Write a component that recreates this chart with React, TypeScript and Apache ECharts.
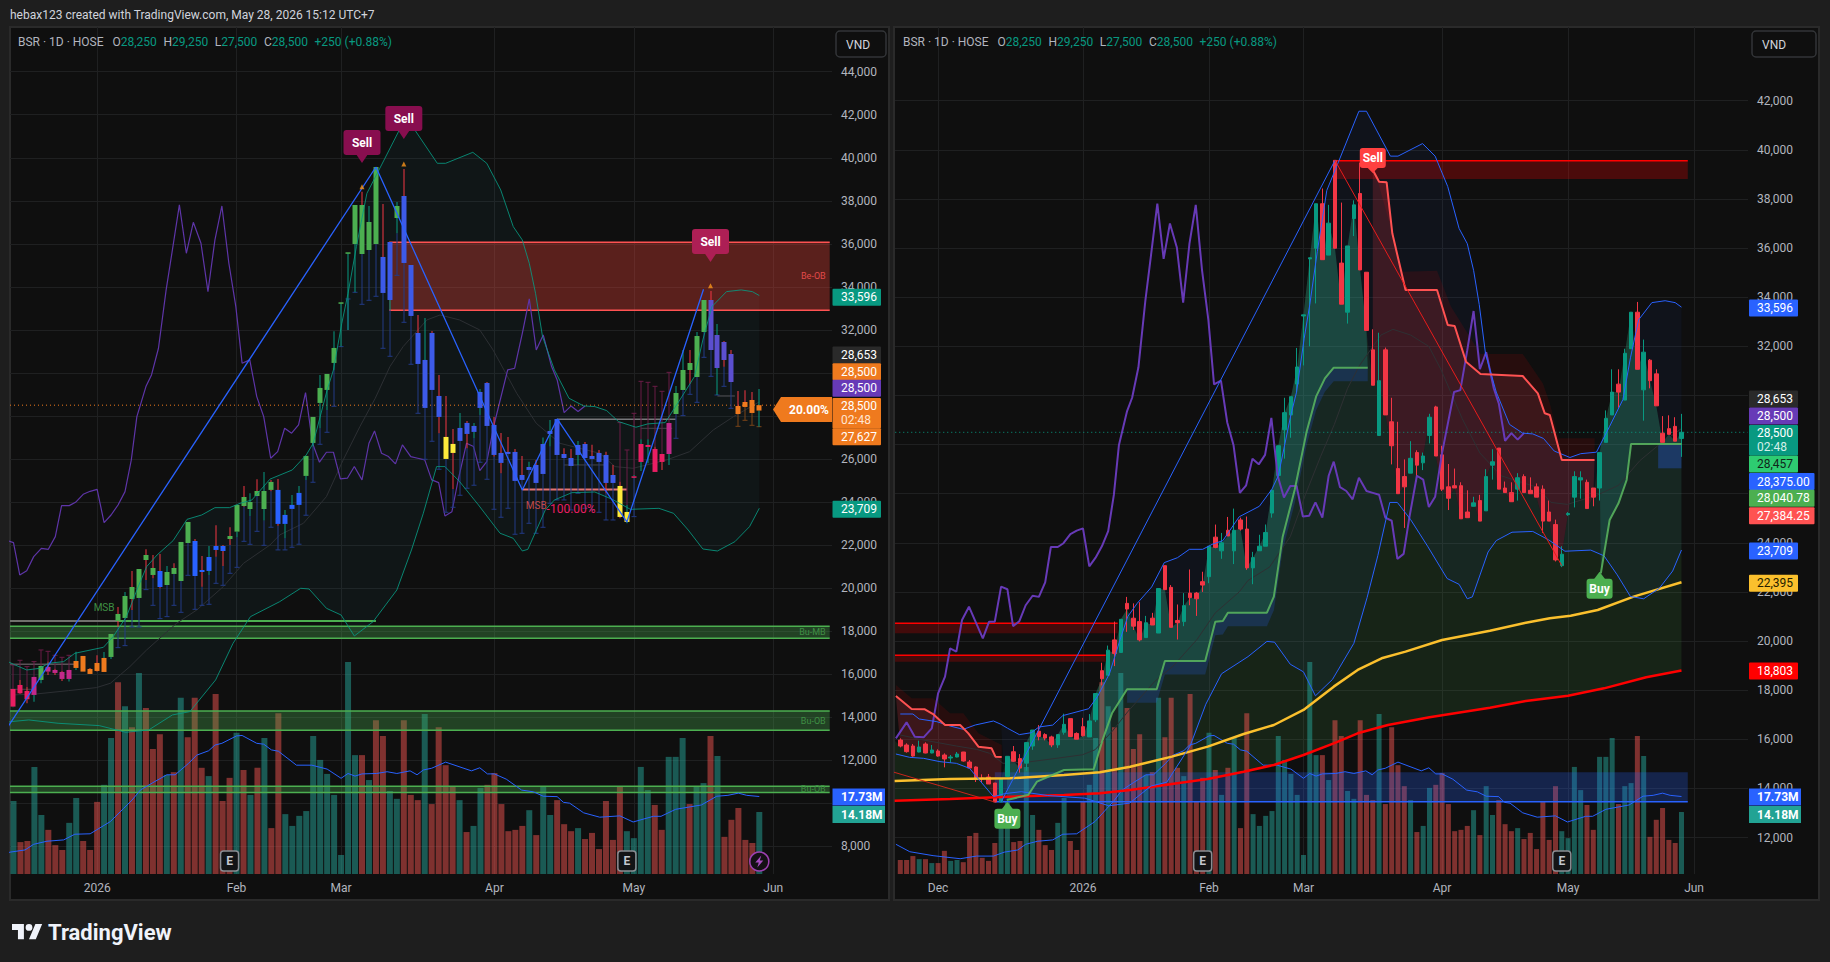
import React, { useEffect, useRef } from "react";
import * as echarts from "echarts";

echarts.graphic.registerShape(
  "tvLogo",
  echarts.graphic.extendPath("M14 22H7V11H0V4h14v18zM28 22h-8l7.5-18h8L28 22zM16 8a4 4 0 1 0 8 0a4 4 0 1 0 -8 0z", {})
);

// All x values are bar numbers: 0 is the first bar of the left pane, -17 the first of the right pane, 107 = May 28.
const firstBar = -18;
const bodyTops = [16245,15974,15770,15730,15689,15811,15567,15526,15363,15282,15404,15485,15078,14875,14427,14468,14223,14386,
15310,15496,15218,15868,16379,16333,16193,16100,16193,16611,16844,16240,16518,16751,17866,18796,19632,20050,20887,21537,20933,20794,20747,20933,22142,23071,22188,20840,21444,21955,21955,22420,23861,24233,24000,24512,24512,24933,24561,23399,23864,24422,26141,27953,29301,29951,31160,33282,35606,37805,37805,37015,39571,35389,36086,37759,38223,35017,31857,30602,31857,28929,27024,26699,27442,27675,27535,29115,29533,27582,26280,26327,26327,25256,25628,25721,26697,27301,27859,26232,26046,26651,26697,26139,26279,26186,25256,24745,23537,25194,26697,26651,26465,26232,27673,29067,30136,30461,31716,33389,33389,31762,31437,30879,28463,28649,28742,28500];
const bodyBottoms = [15974,15729,15499,15322,15485,15445,15445,15322,15200,15241,15282,15119,14834,14386,14386,14183,13450,13450,
14490,15109,14830,15032,15729,16116,16053,15775,15775,16286,16116,16007,16147,16100,16797,18470,18610,19492,19539,21305,20608,20050,20143,20655,20329,22095,20561,20747,20794,21770,21723,22281,22622,23815,23675,24279,23675,24561,22981,22981,23678,23864,25212,26745,28604,29208,30463,33236,35560,35993,35528,35714,35993,33716,33390,37201,35110,32647,30416,28372,29208,27953,26001,26280,26838,27163,27257,28372,27535,26187,25816,26234,24979,25024,25489,24885,25303,27162,26186,26046,25675,26186,26046,26000,25861,24885,24885,23305,23072,25148,25861,26558,25396,25861,26232,28091,29207,30136,29811,31902,31065,30229,30601,29578,28091,28417,28138,28250];
const lows = [15900,15675,15458,15295,15472,15431,15431,15295,14861,15051,15268,15092,14834,14264,14264,14183,13450,13450,
14460,15080,14644,14721,15574,15960,15960,15682,15652,16193,16116,16007,16120,16100,16704,18200,18610,18982,19539,20376,20453,19990,20143,20655,20329,22095,20561,20066,20608,21460,21026,22002,22358,23780,23350,24279,23136,24500,22900,22316,23678,23864,25026,26575,27427,28278,30137,31222,32000,33747,35528,35714,35993,33716,32926,36488,35110,32647,30416,28372,29208,27194,26001,24607,26838,26498,26962,28046,27535,26110,25336,26234,24979,25024,25489,24885,25303,26574,26186,26046,25675,25721,26046,26000,25861,24404,24885,23243,23012,25100,25442,25799,25396,25489,25721,28091,29207,29500,29811,31902,31065,28974,30291,29578,28091,28417,28138,27500];
const highs = [16300,16042,15838,15811,15947,15879,15770,15594,15431,15363,15485,15490,15160,14900,14576,14590,14223,14386,
15310,15729,15400,15868,16379,16581,16250,16150,16193,17045,16844,16286,16875,17030,17866,19120,19818,20794,20887,21800,21537,21584,21026,21150,22142,23071,22281,21491,21955,22916,22002,22823,23861,24744,24403,25054,25395,25026,25072,23632,24329,24747,26141,27953,29905,29951,31934,33282,35606,37805,38425,37759,39571,37852,36086,37945,39478,35017,32693,32554,31950,29905,28929,27396,28139,27768,27675,29254,29580,27953,27210,27024,26466,26139,25876,25954,27000,27813,27859,26496,26465,26837,26790,26666,26418,26341,25721,24946,23863,25250,26914,26914,26573,26232,27673,29392,31065,31065,31902,33389,33807,32274,31484,31065,29160,29191,29114,29250];
// G = up day, R = down day, per bar
const directions = "RRRRGRGRRGGRRRRRRG" +
"GRRGGRRRGG" + "RRRGGRGRGR" + "RRGRGRRRGR" + "RRGRGRGRRG" + "GGGGGGGGGG" + "RGRRGGRRRG" + "RRRRGRGGRR" + "RRRRGRGGRR" + "RGRRRRRRGG" + "GGRRGGGRGG" + "RGRRRRRG";
const volumes = [2.3,3.2,3.2,4.1,3.4,3.4,2.5,2.5,5.3,3,3.2,2.7,8.7,9.4,3.7,3,7.1,10.5,
16.7,7.3,7.55,24.5,13.5,10.1,6.6,5.5,11.7,17.4,7.55,5.5,16.5,20.4,31.1,43.9,38.4,33.6,46,38,28.6,32,22.7,23.3,40.3,31.3,40.3,24.3,22.4,41.2,16.7,22,32.3,23.8,18.1,24.3,31.1,10.5,36.8,13.7,11,13.3,14.4,31.6,26.1,22.9,18.1,4.35,48.5,27.2,27.2,21.5,35.2,31.6,19,17.2,35.2,18.1,16.9,36.6,16,33.6,24.9,20.1,16.9,9.6,11,19.7,20.4,23.1,16,9.8,10.1,11,14.6,8.9,20.1,13.5,16.9,11.4,9.8,10.5,8,9.4,5.7,16.7,7.8,20.1,9.8,8.2,24.5,19.2,15.8,10.1,26.8,26.8,31.1,16,20.1,20.8,31.6,27,8.5,12.4,15.1,7.8,7.1,14.18];
// Left pane only: the long pale wick ends that the indicator paints
const lowTrails: Record<number, number> = {15:17231,16:17324,17:18192,18:18192,19:19927,20:19198,21:18579,22:18672,23:19198,24:18873,25:20592,26:19013,27:19198,28:19245,29:20221,30:20128,31:20685,32:20964,33:22172,34:22033,35:22637,36:21987,37:22826,38:21773,39:21773,40:21897,41:22037,42:23384,43:24918,44:26683,45:27241,46:28449,47:31222,48:33437,49:33747,50:33189,51:33375,52:33561,53:31144,54:30773,55:34537,56:32353,57:30401,58:28124,59:25986,60:26823,61:25522,62:23523,63:23755,64:24313,65:24639,66:24779,67:25847,68:25057,69:23663,70:23291,71:23709,72:22501,73:22546,74:23011,75:22546,76:22825,77:23940,78:24095,79:24095,80:23630,81:24404,82:23707,83:23630,84:23522,85:23165,86:23165,89:23320,95:26961,96:28014,97:29005,98:28634,99:30725,100:29842,101:28974,102:29377,103:28355,104:27518,105:27797,106:27565,107:27500};
const highTrails: Record<number, number> = {0:16425,1:16643,2:16348,3:16581,4:17123,5:17060,6:16875,7:16782,8:16875,87:27689,88:26418,89:28122,90:29609,91:29563,92:29377,93:29145,94:30027};
// Left pane paint state of bars 0..107, as runs of [state, bars]
const paintRuns: [string, number][] = [["p",3],["m",1],["g",1],["m",4],["o",5],["g",7],["b",1],["g",4],["b",5],["g",7],["b",4],["g",11],["i",2],["g",1],["i",6],["y",2],["i",23],["y",2],["p",5],["m",1],["g",5],["u",4],["o",4]];
const paintStates = paintRuns.flatMap(([s, n]) => Array.from({ length: n }, () => s));

const bbUpper = [[-17,17032],[-15,17032],[-14,16829],[-11.2,16720],[-9.1,16544],[-7,16408],[-5.1,16585],[-2.2,16747],[-1,16612],[0,16457],[1.9,16193],[3.8,16271],[5,16503],[7.2,16581],[8.8,16968],[12.9,17247],[14.3,17742],[16.2,18672],[17.9,20066],[19.1,20995],[20.6,21537],[22.9,22204],[24.9,23195],[27,23396],[28.9,23737],[31,23737],[32.5,23938],[34.2,24093],[36.8,25063],[40,25490],[42,26187],[43,26730],[45,29208],[45.9,30137],[47.1,32306],[48,33700],[49.2,35869],[50.7,38345],[52.8,39664],[55.8,41571],[57,41571],[60.8,39743],[62,39743],[65.9,40254],[67.9,39743],[69.9,38504],[71.7,36800],[73,36180],[74,35096],[74.9,33702],[75.9,31688],[77.6,30139],[79.7,28822],[81.8,28466],[83.4,28435],[85.1,28249],[86.8,27738],[89.3,27475],[91,27630],[93.5,27691],[95.6,28745],[97.7,29829],[98.9,31533],[100.2,33082],[102.3,33779],[104.4,33857],[106,33779],[107,33596]];
const bbLower = [[-17.7,15404],[-15.5,15268],[-13.3,15228],[-10.7,15092],[-8.1,15024],[-6,14820],[-4.9,14481],[-2.2,13667],[-1.2,13735],[-0.4,13792],[2.2,13869],[6.4,13714],[12.3,13606],[16.1,13296],[19.4,13404],[22.8,14102],[25.3,14256],[29,15728],[31.5,17432],[34,18671],[38.2,19368],[41.2,19988],[42.4,19957],[44.9,19058],[47,18748],[48.9,17772],[51.6,18439],[55,19910],[57.1,21773],[58.8,23477],[60.7,25645],[61.9,25645],[64,24948],[66.7,23864],[69.8,22548],[71.7,22311],[73,21723],[73.8,21800],[76.3,23628],[77.6,24093],[80.1,24433],[83.4,24464],[85.9,24124],[88.5,23659],[92.6,23705],[94.7,23473],[96.8,22698],[98.9,21815],[101,21723],[103.5,22156],[105.6,22853],[107,23709]];
const bbBasis = [[-17,16177],[-13.3,15974],[-8.1,15729],[-4.9,15594],[-2.8,15431],[-0.7,15024],[3.3,15078],[7.9,15233],[11.9,15372],[13.9,15574],[16.7,16348],[19.1,17123],[23.4,18362],[26.3,18982],[30.1,20066],[33,21150],[36.8,22002],[38.2,22470],[41.6,23012],[44.9,24252],[47.3,25955],[49.7,27505],[51.9,28821],[54,30292],[55.9,31222],[59.3,32461],[61.2,32693],[64,32461],[66.9,31996],[68.8,31067],[72.2,29052],[75,27658],[78.4,26728],[84.1,26264],[86.3,25644],[88.9,25566],[93.7,25954],[97,26341],[100.4,27348],[103.3,27967],[107,28653]];
const laggingLine = [[-17.7,16042],[-16,16693],[-14.7,16110],[-13.3,16083],[-12,16449],[-11,17874],[-9.9,18552],[-9.1,19706],[-8.1,19570],[-7.2,20860],[-6.1,21402],[-3.9,20113],[-2.9,20792],[-2,20792],[-1,22217],[0,22111],[0.9,20608],[1.9,20809],[2.9,21460],[4,21847],[5,21801],[6,22389],[6.9,23830],[8,23830],[8.9,23985],[10,24357],[11,24496],[12,24589],[13,23040],[14,23396],[15,23861],[16,24481],[16.9,25952],[17.7,27970],[19,29365],[19.8,29907],[20.8,31146],[21.9,33857],[22.8,35716],[23.8,37807],[24.8,35561],[25.8,37001],[26.9,36025],[27.9,33779],[28.9,36180],[29.9,37760],[30.9,35096],[31.9,33082],[32.8,30449],[33.9,30604],[34.9,28900],[35.9,27970],[36.9,26034],[37.9,26343],[38.9,27428],[39.9,27196],[40.9,27583],[41.9,29085],[42.9,26731],[43.9,25850],[44.9,26313],[45.9,26313],[46.9,25074],[47.9,25105],[48.9,25647],[50,25027],[51,26731],[51.8,27304],[52.8,26266],[53.8,26111],[54.8,25771],[55.8,26654],[57,26111],[58,26034],[59,25956],[60,25027],[61,24900],[61.9,23349],[62.9,23550],[63.8,25022],[65,26731],[66,26576],[66.9,25461],[67.9,25878],[69,27661],[70.9,30139],[71.9,30217],[73,31843],[74,33438],[75,31068],[76,31765],[77.2,30294],[78,29675],[79,28156],[80,28466],[81,28203],[82,28466]];
const volumeAvg = [[-17.7,6.8],[-15.5,5.1],[-11.8,4.2],[-7.5,3.5],[-4.9,4.1],[-2.2,4.1],[-0.5,5],[1.65,5.5],[2.9,6.8],[4.8,7.5],[7.2,7.8],[8.8,9.1],[11,9.2],[13.9,12],[15.8,15],[17,16.9],[18.2,19.2],[20,20.9],[22,22.7],[23.2,22.7],[25.1,25.3],[26.3,27.2],[28,28.2],[28.9,29.5],[29.9,29.9],[32,31.6],[32.8,31.7],[34.9,29.9],[35.9,29.7],[37,28.4],[38,28.1],[40.6,24.9],[42.8,24.9],[45,24],[47,21.9],[48,23],[49,22.4],[50,22.9],[52.1,23],[53.6,23.4],[55,23],[56.9,23.6],[57.9,22.7],[58.8,23.8],[60,24.2],[62,25.6],[65.7,23.6],[66.9,24.3],[68,22.9],[69,22.9],[70.7,21.7],[72.9,19.2],[74.6,18.8],[76,17.8],[78,17.7],[78.9,16.4],[79.8,16.2],[81.8,14],[84.1,13],[87,13.3],[88.9,11.9],[91.8,13.2],[92.9,13.2],[95,14.8],[98.7,15.8],[100.9,17.8],[102.5,18],[104,18.5],[105.2,18],[107,17.73]];
const zigzagUp = [[-1,13450],[52,39571]];
const zigzagLeftRest = [[52,39571],[73,24560],[78,27859],[88,23072],[99,33885]];
const zigzagRedRight = [[52,39571],[88,23072]];
const zigzagRedStart = [[-18.5,14700],[-2,13450]];

const maYellow = [[-17.9,14305],[-9.1,14387],[0.4,14414],[9,14549],[14.7,14658],[19.5,14888],[26.1,15296],[31.8,15703],[37.5,16219],[42.3,16585],[47,17196],[51.8,18146],[55.6,18824],[59.4,19299],[63.2,19571],[69,20045],[76.6,20425],[82.3,20751],[86.1,20927],[89.4,21036],[93.7,21267],[99.4,21809],[107,22395]];
const maRed = [[-17.9,13505],[-9.1,13573],[0.4,13668],[9,13736],[14.7,13803],[19.5,13939],[26.1,14183],[31.8,14387],[37.5,14685],[42.3,14957],[47,15364],[51.8,15839],[55.6,16246],[60.4,16585],[67,16897],[76.6,17291],[82.3,17562],[89,17779],[94.7,18077],[101.4,18526],[107,18803]];
const trendGreenA = [[-0.1,13532],[3.3,13735],[4.7,14278],[9,14753],[13.7,14780],[15.2,16042],[16.6,17060],[19,18037],[23.7,18037],[25,19191],[31.4,19191],[33,20792],[34.2,20819],[35,21158],[41.2,21158],[42.3,21809],[43.7,24252],[45.6,26152],[47.5,28527],[49,29952],[50.4,30698],[51.8,31132],[57.2,31132]];
const trendGreenB = [[94.2,22759],[95.6,24931],[97,25609],[98.3,26559],[99,28025],[107,28025]];
const trendRedA = [[-17.7,17765],[-15.2,17236],[-13.1,17222],[-11.8,17032],[-9.9,16584],[-7.5,16584],[-6.2,16245],[-4.6,15702],[-2.5,15635],[-1.9,15295],[-0.9,15282]];
const trendRedB = [[58,39179],[59,38704],[60.2,38677],[61.1,36601],[63.2,34294],[68.2,34294],[69.9,32869],[71,32829],[72.8,31377],[75.1,30875],[81.8,30793],[84.2,30087],[85.3,29273],[86.1,29205],[88,27373],[93.2,27373]];
const haloRedA = [[-17.7,18213],[-15.2,17670],[-11.8,17670],[-9.1,17059],[-7,17059],[-4.6,16245],[-0.9,15770]];
const haloRedB = [[58.3,39179],[62.8,35040],[68.2,35080],[70.4,33620],[75.1,31689],[81.8,31689],[85,30490],[86.1,29680],[87.5,28256],[93.2,28256]];

// x0, x1, top price, bottom price, name shown at the right
const leftZones = [[53.9,117.1,36071,32910,"Be-OB"],[-0.5,117.1,18222,17664,"Bu-MB"],[-0.5,117.1,14287,13389,"Bu-OB"],[-0.5,117.1,10787,10492,"Bu-OB"]];
const rightZones = [[52.3,108,39559,38813,""],[-18,17.5,20724,20317,""],[-18,15.6,19421,19163,""],[-2,108,14658,13464,""],[103.3,107,28025,27034,""]];
const leftLevels = [[15,52,18470,"#4caf50",2],[-0.5,15,18470,"#70706c",2],[73,88,24575,"#e57373",2],[78,95,27843,"#77777a",1.5],[-0.5,9,16457,"#5a5258",1.5],[-0.5,3,15295,"#4a4448",1],[101,103.5,28928,"#55555a",1],[79,85,25721,"#44444a",1],[90,94.5,27425,"#44444a",1]];
const sellLeft = [[50,39756,"#880e4f"],[56,40872,"#880e4f"],[100,35155,"#ad1f55"]];
const warnTriangles = [[50,38657],[56,39711],[100,34055]];
const leftNotes = [[13,19119,"MSB","#3f8f44",10],[75,23828,"MSB","#c24a4a",10],[80,23675,"-100.00%","#e91e63",12]];
const earningsBars = [31,88];
const leftPriceTicks = [8000,10000,12000,14000,16000,18000,20000,22000,24000,26000,28000,30000,32000,34000,36000,38000,40000,42000,44000];
const rightPriceTicks = [12000,14000,16000,18000,20000,22000,24000,26000,28000,30000,32000,34000,36000,38000,40000,42000];
// tick labels that sit wholly behind a price badge in the reference
const leftHiddenTicks = [10000,28000,30000];
const rightHiddenTicks = [26000,28000,30000];
const timeTickBars = [-11,12,32,47,69,89,109];
const timeTickNames = ["Dec","2026","Feb","Mar","Apr","May","Jun"];
const legendValues = { o: "28,250", h: "29,250", l: "27,500", c: "28,500", ch: "+250 (+0.88%)" };
const badgesLeft: any[] = [["33,596",297.3,"#089981","#fff"],["28,653",355,"#2a2a2a","#fff"],["28,500",371.7,"#ef7a1e","#fff"],["28,500",388.3,"#673ab7","#fff"],["27,627",436.7,"#ef7a1e","#fff"],["23,709",509.3,"#089981","#fff"]];
const badgesRight: any[] = [["33,596",308,"#2962ff","#fff"],["28,653",399,"#2a2a2a","#fff"],["28,500",416,"#673ab7","#fff"],["28,457",464,"#2ecc71","#10261a"],["28,375.00",481.5,"#2962ff","#fff",65.5],["28,040.78",498.3,"#4caf50","#fff",65.5],["27,384.25",515.7,"#ff5252","#fff",65.5],["23,709",551,"#2962ff","#fff"],["22,395",583.3,"#fbc02d","#241c00"],["18,803",671,"#ff0000","#fff"]];

const FONT = "Roboto, sans-serif";
const TEAL = "#089981";
const RED = "#f23645";
const GRID = "#1f2021";
const closes = bodyTops.map((t, i) => (directions[i] === "G" ? t : bodyBottoms[i]));
const opens = bodyTops.map((t, i) => (directions[i] === "G" ? bodyBottoms[i] : t));
const barAt = (i: number) => i + firstBar;
const closePts = closes.map((c, i) => [barAt(i), c]);
const closeRange = (a: number, b: number) => closePts.filter((p) => p[0] >= a && p[0] <= b);

const paints: Record<string, any> = {
  g: { body: "#4caf50" }, b: { body: "#2962ff" }, i: { body: "#3d5ae8" }, u: { body: "#5b4fcf" },
  y: { body: "#ffeb3b" }, o: { body: "#ef7a1e", trail: "#7a4418" }, p: { body: "#e91e63" }, m: { body: "#c2298a" },
};

const line = (name: string, data: number[][], xi: number, yi: number, color: string, width: number, z: number, type: any = "solid", opacity = 1) => ({
  type: "line", name, data, xAxisIndex: xi, yAxisIndex: yi, showSymbol: false, symbol: "none", silent: true, z,
  lineStyle: { color, width, type, opacity }, clip: true,
});
const polygon = (name: string, pts: number[][], xi: number, yi: number, fill: string, z: number) => ({
  type: "custom", name, xAxisIndex: xi, yAxisIndex: yi, silent: true, clip: true, z,
  data: [pts[0]], encode: { x: 0, y: 1 },
  renderItem: (_: any, api: any) => ({ type: "polygon", shape: { points: pts.map((p) => api.coord(p)) }, style: { fill } }),
});
const band = (name: string, top: number[][], bottom: number[][], xi: number, yi: number, fill: string, z: number) =>
  polygon(name, [...top, ...[...bottom].reverse()], xi, yi, fill, z);

const volumeSeries = (xi: number, yi: number, width: number, from: number) => ({
  type: "bar", name: "Volume", xAxisIndex: xi, yAxisIndex: yi, barWidth: width, silent: true, z: 2, clip: true,
  data: volumes
    .map((v, i) => ({
      value: [barAt(i), v],
      itemStyle: { color: directions[i] === "G" ? "rgba(38,166,154,0.5)" : "rgba(239,83,80,0.5)" },
    }))
    .filter((d) => d.value[0] >= from),
});
const eventSeries = (xi: number, yi: number) => ({
  type: "custom", name: "Events", xAxisIndex: xi, yAxisIndex: yi, silent: true, z: 9,
  data: earningsBars.map((b) => [b, 0]), encode: { x: 0, y: 1 },
  renderItem: (_: any, api: any) => {
    const [x, y] = api.coord([api.value(0), 0]);
    return {
      type: "group", children: [
        { type: "rect", shape: { x: x - 9, y: y - 23, width: 18, height: 20, r: 3 }, style: { fill: "#131416", stroke: "#8a8d93", lineWidth: 1.5 } },
        { type: "text", style: { x, y: y - 13, text: "E", fill: "#c4c7cf", font: `bold 12px ${FONT}`, align: "center", verticalAlign: "middle" } },
      ],
    };
  },
});
const tagSeries = (name: string, items: any[], xi: number, yi: number, text: string, w: number, h: number, below: boolean, gap: number) => ({
  type: "custom", name, xAxisIndex: xi, yAxisIndex: yi, silent: true, z: 10, data: items.map((t) => [t[0], t[1]]), encode: { x: 0, y: 1 },
  renderItem: (p: any, api: any) => {
    const [x, y] = api.coord([api.value(0), api.value(1)]);
    const fill = items[p.dataIndex][2];
    const top = below ? y + gap : y - gap - h;
    const tip = below ? [[x, y], [x - 6, y + gap + 1], [x + 6, y + gap + 1]] : [[x, y], [x - 6, y - gap - 1], [x + 6, y - gap - 1]];
    return {
      type: "group", children: [
        { type: "polygon", shape: { points: tip }, style: { fill } },
        { type: "rect", shape: { x: x - w / 2, y: top, width: w, height: h, r: 3 }, style: { fill } },
        { type: "text", style: { x, y: top + h / 2, text, fill: "#fff", font: `bold 12px ${FONT}`, align: "center", verticalAlign: "middle" } },
      ],
    };
  },
});
const zoneSeries = (zones: any[], xi: number, yi: number, styles: any[], z: number) => ({
  type: "custom", name: "Zones", xAxisIndex: xi, yAxisIndex: yi, silent: true, clip: true, z,
  data: zones.map((d) => [d[0], d[2]]), encode: { x: 0, y: 1 },
  renderItem: (p: any, api: any) => {
    const d = zones[p.dataIndex];
    const s = styles[p.dataIndex];
    const [x0, y0] = api.coord([d[0], d[2]]);
    const [x1, y1] = api.coord([d[1], d[3]]);
    const kids: any[] = [{ type: "rect", shape: { x: x0, y: y0, width: x1 - x0, height: y1 - y0 }, style: { fill: s.fill } }];
    if (s.top) kids.push({ type: "line", shape: { x1: x0, y1: y0, x2: x1, y2: y0 }, style: { stroke: s.top, lineWidth: s.w || 1.5 } });
    if (s.bottom) kids.push({ type: "line", shape: { x1: x0, y1, x2: x1, y2: y1 }, style: { stroke: s.bottom, lineWidth: s.w || 1.5 } });
    if (d[4]) kids.push({ type: "text", style: { x: x1 - 4, y: (y0 + y1) / 2, text: d[4], fill: s.label, font: `9px ${FONT}`, align: "right", verticalAlign: "middle" } });
    return { type: "group", children: kids };
  },
});

const leftCandles = {
  type: "custom", name: "BSR candles", xAxisIndex: 0, yAxisIndex: 0, clip: true, silent: true, z: 6,
  data: bodyTops.map((t, i) => [barAt(i), t, bodyBottoms[i], lows[i], highs[i]]).filter((d) => d[0] >= 0),
  encode: { x: 0, y: [1, 2, 3, 4] },
  renderItem: (p: any, api: any) => {
    const bar = api.value(0);
    const i = bar - firstBar;
    const c = (v: number) => api.coord([bar, v]);
    const x = Math.round(c(0)[0]);
    const yT = c(api.value(1))[1], yB = c(api.value(2))[1], yL = c(api.value(3))[1], yH = c(api.value(4))[1];
    const paint = paints[paintStates[bar]] || paints.b;
    const wick = directions[i] === "G" ? TEAL : RED;
    const kids: any[] = [];
    const vline = (a: number, b: number, color: string) => kids.push({ type: "rect", shape: { x: x - 0.5, y: Math.min(a, b), width: 1, height: Math.abs(b - a) }, style: { fill: color } });
    const cap = (a: number, color: string) => kids.push({ type: "rect", shape: { x: x - 2.5, y: a - 0.5, width: 5, height: 1 }, style: { fill: color } });
    const ht = highTrails[bar];
    if (ht) { const y = c(ht)[1]; vline(y, yH, "#6b1d47"); cap(y, "#6b1d47"); }
    const lt = lowTrails[bar];
    if (lt) { const y = c(lt)[1]; const col = paint.trail || "#223a86"; vline(yL, y, col); cap(y, col); }
    vline(yH, yT, wick);
    vline(yB, yL, wick);
    kids.push({ type: "rect", shape: { x: x - 2.5, y: yT, width: 5, height: Math.max(yB - yT, 1.5) }, style: { fill: paint.body } });
    return { type: "group", children: kids };
  },
};

const noteSeries = {
  type: "custom", name: "Notes", xAxisIndex: 0, yAxisIndex: 0, silent: true, z: 9,
  data: leftNotes.map((n) => [n[0], n[1]]), encode: { x: 0, y: 1 },
  renderItem: (p: any, api: any) => {
    const n = leftNotes[p.dataIndex];
    const [x, y] = api.coord([n[0], n[1]]);
    return { type: "text", style: { x, y, text: n[2], fill: n[3], font: `${n[4]}px ${FONT}`, align: "center", verticalAlign: "middle" } };
  },
};
const levelSeries = {
  type: "custom", name: "Levels", xAxisIndex: 0, yAxisIndex: 0, silent: true, clip: true, z: 5,
  data: leftLevels.map((l) => [l[0], l[2]]), encode: { x: 0, y: 1 },
  renderItem: (p: any, api: any) => {
    const l = leftLevels[p.dataIndex];
    const a = api.coord([l[0], l[2]]);
    const b = api.coord([l[1], l[2]]);
    return { type: "line", shape: { x1: a[0], y1: a[1], x2: b[0], y2: b[1] }, style: { stroke: l[3], lineWidth: l[4] } };
  },
};
const boltSeries = {
  type: "custom", name: "Alert", xAxisIndex: 0, yAxisIndex: 1, silent: true, z: 9, data: [[107, 0]], encode: { x: 0, y: 1 },
  renderItem: (_: any, api: any) => {
    const [x, y] = api.coord([107, 0]);
    const cy = y - 12.5;
    return {
      type: "group", children: [
        { type: "circle", shape: { cx: x, cy, r: 9.5 }, style: { fill: "#141015", stroke: "#9c40b0", lineWidth: 1.5 } },
        { type: "polygon", shape: { points: [[x + 2, cy - 6], [x - 4, cy + 1], [x - 0.5, cy + 1], [x - 2, cy + 6], [x + 4, cy - 1], [x + 0.5, cy - 1]] }, style: { fill: "#a64cc0" } },
      ],
    };
  },
};

const xAxisBase = (gridIndex: number, min: number, max: number, ticks: number[]) => ({
  type: "value", gridIndex, min, max,
  axisLine: { show: false },
  axisTick: { show: false, customValues: ticks },
  splitLine: { show: true, lineStyle: { color: GRID, width: 1 } },
  axisLabel: {
    customValues: ticks, color: "#b2b5be", fontFamily: FONT, fontSize: 12, margin: 8, hideOverlap: false,
    formatter: (v: number) => timeTickNames[timeTickBars.indexOf(v)] || "",
  },
});
const priceAxis = (gridIndex: number, min: number, max: number, ticks: number[], hidden: number[]) => ({
  type: "value", gridIndex, min, max, position: "right", z: -1,
  axisLine: { show: false },
  axisTick: { show: false, customValues: ticks },
  splitLine: { show: true, lineStyle: { color: GRID, width: 1 } },
  axisLabel: {
    customValues: ticks, color: "#b2b5be", fontFamily: FONT, fontSize: 12, margin: 9, showMinLabel: true, showMaxLabel: true,
    formatter: (v: number) => (hidden.includes(v) ? "" : v.toLocaleString("en-US")),
  },
});
const volumeAxis = (gridIndex: number) => ({ type: "value", gridIndex, min: 0, max: 193.8, show: false, splitLine: { show: false } });

const txt = (text: string, x: number, y: number, fill: string, font: string, align = "left") => ({
  type: "text", z: 100, style: { text, x, y, fill, font, align, verticalAlign: "middle" },
});
const badge = (b: any[], x: number, tx: number, w: number) => [
  { type: "rect", z: 99, shape: { x, y: b[1] - 8.5, width: b[4] || w, height: 17, r: 1 }, style: { fill: b[2] } },
  txt(b[0], tx, b[1], b[3], `12px ${FONT}`),
];
const legend = (x: number) => {
  const v = legendValues;
  return {
    type: "text", z: 100,
    style: {
      x, y: 42, verticalAlign: "middle", align: "left",
      text: `{a|BSR · 1D · HOSE   O}{b|${v.o}}  {a|H}{b|${v.h}}  {a|L}{b|${v.l}}  {a|C}{b|${v.c}}  {b|${v.ch}}`,
      rich: {
        a: { fill: "#b2b5be", fontFamily: FONT, fontSize: 12 },
        b: { fill: "#089981", fontFamily: FONT, fontSize: 12 },
      },
    },
  };
};
const vndBox = (x: number, w: number) => [
  { type: "rect", z: 99, shape: { x, y: 31, width: w, height: 26, r: 4 }, style: { fill: "#0f0f0f", stroke: "#333538", lineWidth: 1.5 } },
  txt("VND", x + 10, 44.5, "#d1d4dc", `12px ${FONT}`),
];

function buildOption() {
  const graphics: any[] = [
    txt("hebax123 created with TradingView.com, May 28, 2026 15:12 UTC+7", 10, 14.5, "#d1d4dc", `12px ${FONT}`),
    legend(18), legend(903),
    ...vndBox(836, 50), ...vndBox(1752, 64),
    ...badgesLeft.flatMap((b) => badge(b, 832.5, 841, 48.5)),
    ...badgesRight.flatMap((b) => badge(b, 1749, 1757, 49)),
    { type: "rect", z: 99, shape: { x: 832.5, y: 398, width: 48.5, height: 30.5, r: 1 }, style: { fill: "#ef7a1e" } },
    txt("28,500", 841, 405.7, "#fff", `12px ${FONT}`),
    txt("02:48", 841, 419.5, "#ffe6d2", `12px ${FONT}`),
    { type: "rect", z: 99, shape: { x: 1749, y: 425, width: 49, height: 30.5, r: 1 }, style: { fill: "#089981" } },
    txt("28,500", 1757, 432.7, "#fff", `12px ${FONT}`),
    txt("02:48", 1757, 446.7, "#d5f0ea", `12px ${FONT}`),
    { type: "polygon", z: 99, shape: { points: [[773, 409.5], [781, 397], [832, 397], [832, 422], [781, 422]] }, style: { fill: "#ef7a1e" } },
    txt("20.00%", 789, 409.5, "#fff", `bold 12px ${FONT}`),
    { type: "rect", z: 99, shape: { x: 832.5, y: 788.5, width: 52.5, height: 17 }, style: { fill: "#2962ff" } },
    txt("17.73M", 841, 797.3, "#fff", `bold 12px ${FONT}`),
    { type: "rect", z: 99, shape: { x: 832.5, y: 806, width: 52.5, height: 17 }, style: { fill: "#22a394" } },
    txt("14.18M", 841, 814.7, "#fff", `bold 12px ${FONT}`),
    { type: "rect", z: 99, shape: { x: 1749, y: 788.5, width: 52, height: 17 }, style: { fill: "#2962ff" } },
    txt("17.73M", 1757, 797.3, "#fff", `bold 12px ${FONT}`),
    { type: "rect", z: 99, shape: { x: 1749, y: 806, width: 52, height: 17 }, style: { fill: "#22a394" } },
    txt("14.18M", 1757, 814.7, "#fff", `bold 12px ${FONT}`),
    { type: "tvLogo", z: 100, x: 12, y: 920.6, scaleX: 0.85, scaleY: 0.85, style: { fill: "#f0f3fa" } },
    txt("TradingView", 48, 932, "#f0f3fa", `bold 22px ${FONT}`),
  ];

  const leftSeries: any[] = [
    band("BB fill", bbUpper.filter((p) => p[0] >= -1), bbLower.filter((p) => p[0] >= -1.2), 0, 0, "rgba(32,110,130,0.08)", 1),
    volumeSeries(0, 1, 6, 0),
    line("Volume MA", volumeAvg, 0, 1, "#2962ff", 1, 5),
    zoneSeries(leftZones, 0, 0, [
      { fill: "rgba(244,67,54,0.33)", top: "#ff5252", bottom: "#ff5252", label: "#e04a4a" },
      { fill: "rgba(76,175,80,0.32)", top: "#4caf50", bottom: "#4caf50", label: "#3f8f44" },
      { fill: "rgba(76,175,80,0.32)", top: "#4caf50", bottom: "#4caf50", label: "#3f8f44" },
      { fill: "rgba(76,175,80,0.32)", top: "#4caf50", bottom: "#4caf50", label: "#3f8f44" },
    ], 4),
    levelSeries,
    line("BB basis", bbBasis, 0, 0, "#2c2f33", 1, 5),
    line("Lagging", laggingLine, 0, 0, "#5e35a8", 1.2, 5),
    line("Price", [[-0.5, 28500], [117.4, 28500]], 0, 0, "#ef7a1e", 1, 5, [1, 3]),
    leftCandles,
    line("BB upper", bbUpper, 0, 0, TEAL, 1, 7, "solid", 0.85),
    line("BB lower", bbLower, 0, 0, TEAL, 1, 7, "solid", 0.85),
    line("ZigZag up", zigzagUp, 0, 0, "#2962ff", 1.3, 7),
    line("ZigZag", zigzagLeftRest, 0, 0, "#2962ff", 1.3, 7),
    {
      type: "scatter", name: "Warn", xAxisIndex: 0, yAxisIndex: 0, symbol: "triangle", symbolSize: [5, 5], silent: true, z: 8,
      data: warnTriangles, itemStyle: { color: "#f7931a" },
    },
    noteSeries,
    tagSeries("Sell", sellLeft, 0, 0, "Sell", 37, 25, false, 8),
    eventSeries(0, 1),
    boltSeries,
  ];

  const shadowA = trendGreenA.filter((p) => p[0] >= 19).map((p) => [p[0], p[1] - 550]);
  const rightSeries: any[] = [
    band("Olive", closePts, maRed, 1, 2, "rgba(76,175,80,0.13)", 1),
    band("Bollinger fill", bbUpper.filter((p) => p[0] >= -1), bbLower.filter((p) => p[0] >= -1), 1, 2, "rgba(41,98,255,0.05)", 1),
    volumeSeries(1, 3, 5, -17),
    line("Volume MA", volumeAvg, 1, 3, "#2962ff", 1, 5),
    band("Halo A", haloRedA, trendRedA, 1, 2, "rgba(255,0,0,0.1)", 3),
    band("Halo B", haloRedB, trendRedB, 1, 2, "rgba(255,0,0,0.1)", 3),
    band("Down fill A", trendRedA, closeRange(-17.7, -1), 1, 2, "rgba(242,54,69,0.2)", 3),
    band("Down fill B", trendRedB, closeRange(58, 93), 1, 2, "rgba(242,54,69,0.2)", 3),
    band("Up fill A", closeRange(0, 57), trendGreenA, 1, 2, "rgba(38,166,154,0.25)", 3),
    band("Up fill B", closeRange(94, 107), trendGreenB, 1, 2, "rgba(38,166,154,0.2)", 3),
    band("Trail shadow", trendGreenA.filter((p) => p[0] >= 19), shadowA, 1, 2, "rgba(41,98,255,0.2)", 3),
    zoneSeries(rightZones, 1, 2, [
      { fill: "rgba(255,0,0,0.25)", top: "#ff0000" },
      { fill: "rgba(255,0,0,0.22)", top: "#ff0000" },
      { fill: "rgba(255,0,0,0.22)", top: "#ff0000" },
      { fill: "rgba(41,98,255,0.25)", bottom: "#2962ff" },
      { fill: "rgba(41,98,255,0.3)" },
    ], 4),
    line("BB basis", bbBasis, 1, 2, "#2e3033", 1, 5),
    {
      type: "candlestick", name: "BSR", xAxisIndex: 1, yAxisIndex: 2, barWidth: 4, silent: true, z: 6, clip: true,
      encode: { x: 0, y: [1, 2, 3, 4] },
      itemStyle: { color: TEAL, color0: RED, borderColor: TEAL, borderColor0: RED, borderWidth: 1 },
      data: closes.map((c, i) => [barAt(i), opens[i], c, lows[i], highs[i]]).filter((d) => d[0] >= -17),
    },
    line("MA200", maYellow, 1, 2, "#fbc02d", 2.5, 7),
    line("MA300", maRed, 1, 2, "#ff0000", 2.5, 7),
    line("Lagging", laggingLine, 1, 2, "#673ab7", 2, 7),
    line("BB upper", bbUpper, 1, 2, "#2962ff", 1, 7),
    line("BB lower", bbLower, 1, 2, "#2962ff", 1, 7),
    line("Trail green A", trendGreenA, 1, 2, "#5cb860", 2, 7, "solid", 0.85),
    line("Trail green B", trendGreenB, 1, 2, "#5cb860", 2, 7, "solid", 0.85),
    line("Trail red A", trendRedA, 1, 2, "#ff5252", 2, 7),
    line("Trail red B", trendRedB, 1, 2, "#ff5252", 2, 7),
    line("ZigZag up", zigzagUp, 1, 2, "#2962ff", 1, 7),
    line("ZigZag down", zigzagRedRight, 1, 2, "#e81c1c", 1, 7),
    line("ZigZag down early", zigzagRedStart, 1, 2, "#c8261c", 1, 7),
    line("Price", [[-17.8, 28500], [117.5, 28500]], 1, 2, "#089981", 1, 5, [1, 3]),
    tagSeries("Sell", [[58, 39057, "#ff4040"]], 1, 2, "Sell", 26, 20, false, 5),
    tagSeries("Buy", [[0, 13462, "#4caf50"], [94, 22825, "#4caf50"]], 1, 2, "Buy", 26, 20, true, 7),
    eventSeries(1, 3),
  ];

  return {
    animation: false,
    backgroundColor: "transparent",
    textStyle: { fontFamily: FONT },
    grid: [
      { left: 10, top: 27, width: 822, height: 847 },
      { left: 895, top: 27, width: 853, height: 847 },
    ],
    xAxis: [
      xAxisBase(0, -0.5, 117.43, timeTickBars.slice(1)),
      xAxisBase(1, -17.84, 117.56, timeTickBars),
    ],
    yAxis: [
      priceAxis(0, 6709, 46078, leftPriceTicks, leftHiddenTicks),
      volumeAxis(0),
      priceAxis(1, 10519, 45000, rightPriceTicks, rightHiddenTicks),
      volumeAxis(1),
    ],
    series: [...leftSeries, ...rightSeries],
    graphic: { elements: graphics },
  };
}

export default function App() {
  const ref = useRef<HTMLDivElement>(null);
  useEffect(() => {
    const chart = echarts.init(ref.current!, undefined, { renderer: "svg" });
    chart.setOption(buildOption() as any);
    return () => chart.dispose();
  }, []);
  const pane = (left: number, width: number) => ({
    position: "absolute" as const, left, top: 26, width, height: 875, background: "#0f0f0f", border: "2px solid #2a2a2a", boxSizing: "border-box" as const,
  });
  return (
    <div style={{ position: "fixed", left: 0, top: 0, width: 1830, height: 962, background: "#1e1e1e", overflow: "hidden" }}>
      <div style={pane(9, 881)} />
      <div style={pane(893, 927)} />
      <div ref={ref} style={{ position: "absolute", left: 0, top: 0, width: 1830, height: 962 }} />
    </div>
  );
}
